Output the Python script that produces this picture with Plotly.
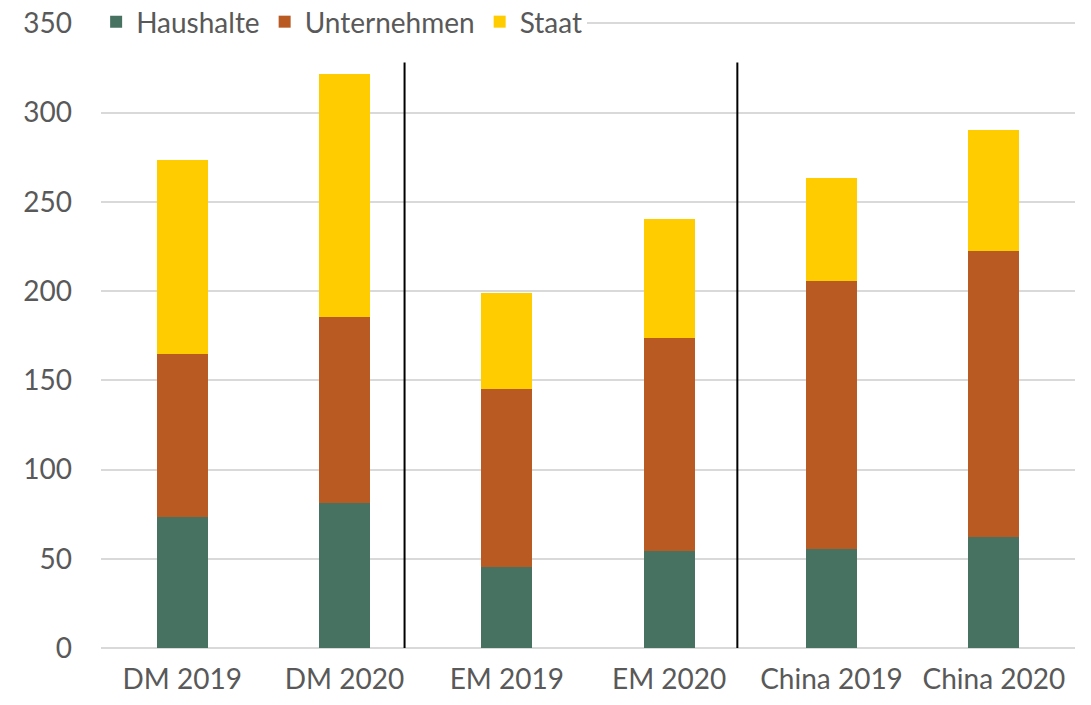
import plotly.graph_objects as go

categories = ["DM 2019", "DM 2020", "EM 2019", "EM 2020", "China 2019", "China 2020"]
haushalte = [73.4, 81.2, 45.4, 54.3, 55.4, 62.2]
unternehmen = [91.2, 104.1, 99.6, 119.3, 150.1, 160.1]
staat = [108.6, 136.1, 53.8, 66.6, 57.7, 67.7]
y_ticks = [0, 50, 100, 150, 200, 250, 300, 350]

colors = {"Haushalte": "#477262", "Unternehmen": "#B85A22", "Staat": "#FFCC00"}
font_family = "Lato, 'Open Sans', sans-serif"
grey = "#595959"
fsize = 28

fig = go.Figure()
for name, vals in [("Haushalte", haushalte), ("Unternehmen", unternehmen), ("Staat", staat)]:
    fig.add_trace(go.Bar(x=categories, y=vals, name=name, marker=dict(color=colors[name], line=dict(width=0))))

for xpos in [1.37, 3.42]:
    fig.add_shape(type="line", xref="x", yref="y", x0=xpos, x1=xpos, y0=-2.5, y1=328,
                  line=dict(color="black", width=2))

fig.update_layout(
    barmode="stack",
    bargap=0.685,
    width=1091, height=705,
    margin=dict(l=101, r=16, t=18, b=57, autoexpand=False),
    paper_bgcolor="white", plot_bgcolor="white",
    font=dict(family=font_family, size=fsize, color=grey),
    showlegend=True,
    legend=dict(orientation="h", x=-0.005, xanchor="left", y=0.9937, yanchor="middle",
                bgcolor="white", font=dict(size=fsize, color=grey),
                traceorder="normal", itemwidth=30, tracegroupgap=0),
    xaxis=dict(showgrid=False, ticks="", showline=False, ticklabelstandoff=12, automargin=False,
               tickfont=dict(size=fsize, color=grey)),
    yaxis=dict(range=[0, 353], tickvals=y_ticks, showgrid=True, gridcolor="#D9D9D9", gridwidth=1.5,
               zeroline=True, zerolinecolor="#D9D9D9", zerolinewidth=1.5, automargin=False,
               ticklabeloverflow="allow",
               ticks="", ticklabelstandoff=28, tickfont=dict(size=fsize, color=grey)),
)

fig.write_html("out.html", config={"displayModeBar": False},
               post_script="document.body.style.margin='0';")
